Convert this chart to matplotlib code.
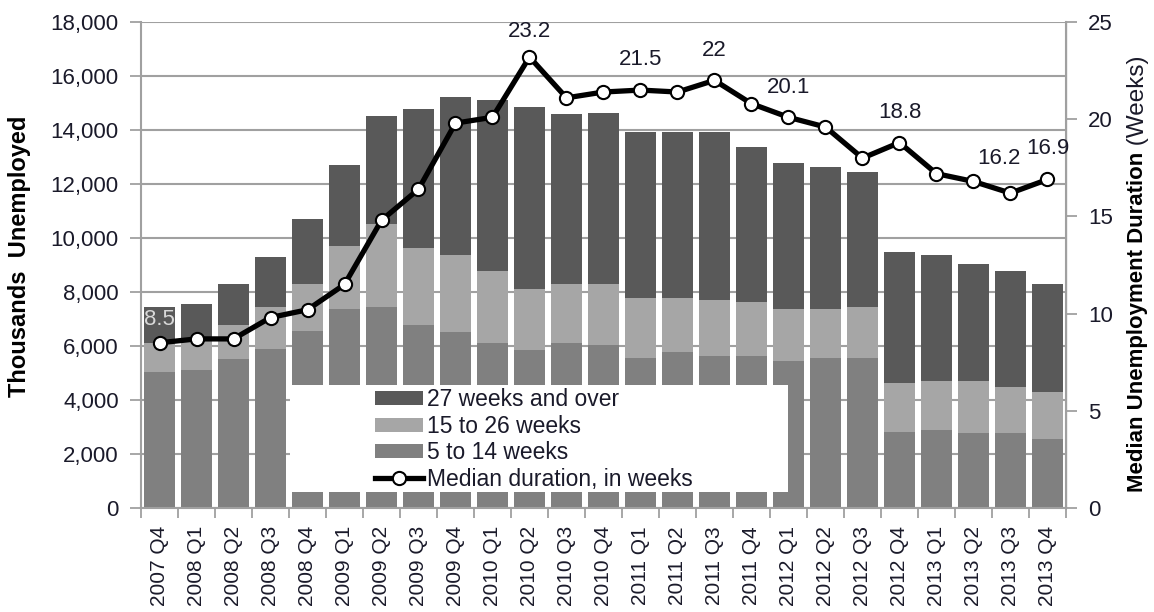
import matplotlib
matplotlib.use("Agg")
from matplotlib import pyplot as plt
from matplotlib.patches import Rectangle
from matplotlib.ticker import FuncFormatter, MultipleLocator
import numpy as np

plt.rcParams['font.family'] = ['Liberation Sans', 'DejaVu Sans']

quarters = ["2007 Q4", "2008 Q1", "2008 Q2", "2008 Q3", "2008 Q4",
            "2009 Q1", "2009 Q2", "2009 Q3", "2009 Q4", "2010 Q1",
            "2010 Q2", "2010 Q3", "2010 Q4", "2011 Q1", "2011 Q2",
            "2011 Q3", "2011 Q4", "2012 Q1", "2012 Q2", "2012 Q3",
            "2012 Q4", "2013 Q1", "2013 Q2", "2013 Q3", "2013 Q4"]

# thousands unemployed, by duration
w5_14 = [5040, 5110, 5520, 5890, 6560, 7370, 7440, 6780, 6520, 6110, 5850, 6110, 6040,
         5560, 5780, 5630, 5630, 5440, 5560, 5560, 2820, 2890, 2780, 2780, 2560]
w15_26 = [1070, 1110, 1260, 1560, 1740, 2330, 3080, 2850, 2850, 2670, 2260, 2190, 2260,
          2220, 2000, 2070, 2000, 1930, 1810, 1890, 1810, 1810, 1920, 1700, 1740]
w27 = [1330, 1330, 1520, 1850, 2400, 3000, 4000, 5150, 5850, 6330, 6740, 6300, 6330,
       6150, 6150, 6220, 5740, 5410, 5260, 5000, 4850, 4670, 4330, 4300, 4000]

# median duration in weeks
median = [8.5, 8.7, 8.7, 9.8, 10.2, 11.5, 14.8, 16.4, 19.8, 20.1, 23.2, 21.1, 21.4,
          21.5, 21.4, 22.0, 20.8, 20.1, 19.6, 18.0, 18.8, 17.2, 16.8, 16.2, 16.9]

# which points get a value label, and where the label sits (pixels from the point)
labelled = [0, 10, 13, 15, 17, 20, 23, 24]
label_offsets = {0: (0, 23), 10: (0, 26), 13: (0, 31), 15: (0, 30),
                 17: (0, 30), 20: (0, 30), 23: (-12, 35), 24: (0, 31)}

txt = "#1a1a2a"
grey = "#a0a0a0"
c_dark, c_light, c_mid = "#595959", "#a6a6a6", "#808080"

fig = plt.figure(figsize=(11.54, 6.12), dpi=100)
ax = fig.add_axes([0.1222, 0.1699, 0.8015, 0.7941])
ax2 = ax.twinx()

x = np.arange(len(quarters))
bw = 0.83
b1 = ax.bar(x, w5_14, bw, color=c_mid, zorder=2, label="5 to 14 weeks")
b2 = ax.bar(x, w15_26, bw, bottom=w5_14, color=c_light, zorder=2, label="15 to 26 weeks")
bot3 = np.array(w5_14) + np.array(w15_26)
b3 = ax.bar(x, w27, bw, bottom=bot3, color=c_dark, zorder=2, label="27 weeks and over")

ax.set_xlim(-0.5, len(quarters) - 0.5)
ax.set_ylim(0, 18000)
ax.yaxis.set_major_locator(MultipleLocator(2000))
ax.yaxis.set_major_formatter(FuncFormatter(lambda v, p: f"{int(v):,}"))
ax.grid(axis='y', color=grey, lw=1.5, zorder=0)
ax.set_axisbelow(True)

ax.set_xticks(x)
ax.set_xticklabels(quarters, rotation=90, fontsize=15, color=txt)
ax.set_xticks(np.arange(-0.5, len(quarters)), minor=True)
ax.tick_params(axis='x', which='major', length=0, pad=13)
ax.tick_params(axis='x', which='minor', length=7, width=1.3, color=grey, direction='out')
ax.tick_params(axis='y', length=8, width=1.3, color=grey, labelsize=16, labelcolor=txt, pad=8)

for s in ['top']:
    ax.spines[s].set_visible(False)
    ax2.spines[s].set_visible(False)
for s in ['left', 'bottom']:
    ax.spines[s].set_color(grey)
    ax.spines[s].set_linewidth(1.5)
ax2.spines['right'].set_color(grey)
ax2.spines['right'].set_linewidth(1.5)
ax2.spines['left'].set_visible(False)
ax2.spines['bottom'].set_visible(False)

# white box behind the legend, covering the bars
ax2.add_patch(Rectangle((0.161, 0.033), 0.538, 0.220, transform=ax.transAxes,
                        facecolor='white', edgecolor='none', zorder=3))

ln, = ax2.plot(x, median, color='black', lw=3.8, marker='o', ms=9.5,
               mfc='white', mec='black', mew=1.5, zorder=5,
               label="Median duration, in weeks")
ax2.set_ylim(0, 25)
ax2.yaxis.set_major_locator(MultipleLocator(5))
ax2.tick_params(axis='y', length=8, width=1.3, color=grey, labelsize=16, labelcolor=txt, pad=8)

for i in labelled:
    v = median[i]
    s = f"{v:g}"
    col = "#d8d8d8" if i == 0 else txt
    ax2.annotate(s, (x[i], v), xytext=label_offsets[i], textcoords='offset pixels',
                 ha='center', va='center', fontsize=16, color=col, zorder=6)

leg = ax2.legend([b3, b2, b1, ln],
                 ["27 weeks and over", "15 to 26 weeks", "5 to 14 weeks", "Median duration, in weeks"],
                 loc='upper left', bbox_to_anchor=(0.253, 0.246), bbox_transform=ax.transAxes,
                 frameon=False, fontsize=16.5, handlelength=2.1, handleheight=0.55,
                 handletextpad=0.15, labelspacing=0.15, borderpad=0, borderaxespad=0)
for t in leg.get_texts():
    t.set_color(txt)
leg.set_zorder(7)

fig.text(0.0173, 0.582, "Thousands  Unemployed", rotation=90, ha='center', va='center',
         fontsize=17, fontweight='bold', color='black')
bold = fig.text(0.986, 0.196, "Median Unemployment Duration", rotation=90, ha='center',
                va='bottom', fontsize=16, fontweight='bold', color='black')
ax2.annotate(" (Weeks)", xy=(0.5, 1.0), xycoords=bold, rotation=90, ha='center',
             va='bottom', fontsize=17.5, color=txt, annotation_clip=False)

fig.savefig("out.png", dpi=100)
